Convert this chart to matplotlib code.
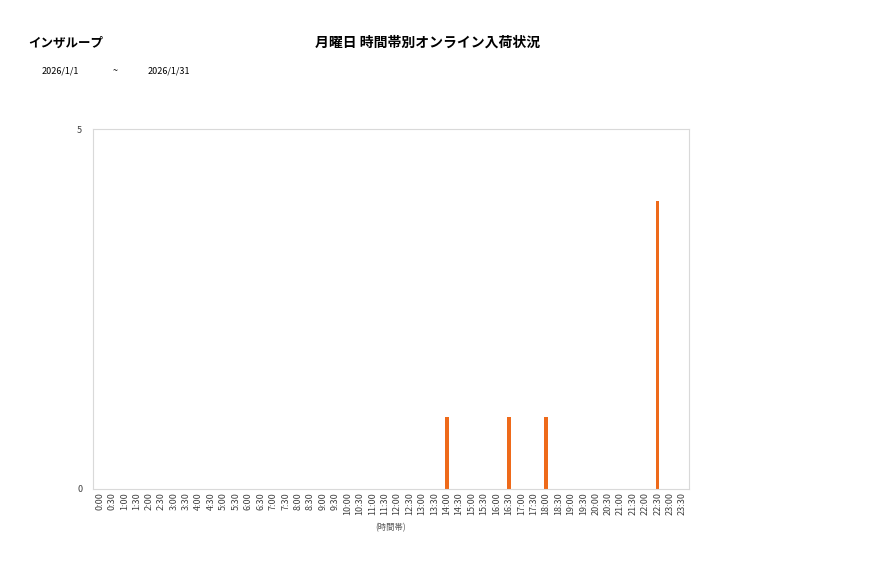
import matplotlib
matplotlib.use("Agg")
import matplotlib.pyplot as plt

plt.rcParams['font.family'] = ['Noto Sans CJK JP', 'DejaVu Sans']

# 時間帯 (30分刻み)
slots = ["{}:{:02d}".format(h, m) for h in range(24) for m in (0, 30)]
counts = [0] * len(slots)
# 入荷件数
hits = {"14:00": 1, "16:30": 1, "18:00": 1, "22:30": 4}
for k, v in hits.items():
    counts[slots.index(k)] = v

shop_name = "インザループ"
chart_title = "月曜日 時間帯別オンライン入荷状況"
date_from = "2026/1/1"
date_to = "2026/1/31"

fig = plt.figure(figsize=(8.77, 5.78), dpi=100)
ax = fig.add_axes([0.1064, 0.154, 0.6789, 0.6228])

x = list(range(len(slots)))
ax.bar(x, counts, width=0.27, color="#EE6A1A")

ax.set_xlim(-0.5, len(slots) - 0.5)
ax.set_ylim(0, 5)
ax.set_yticks([0, 5])
ax.set_xticks(x)
ax.set_xticklabels(slots, rotation=90, fontsize=6.5, color="#404040")
ax.tick_params(axis="both", length=0, pad=2)
ax.tick_params(axis="y", labelsize=6.5, labelcolor="#404040", pad=8)
for s in ax.spines.values():
    s.set_color("#D9D9D9")
    s.set_linewidth(0.8)

ax.set_xlabel("(時間帯)", fontsize=6, color="#595959", labelpad=6)

fig.text(28 / 877, 1 - 43 / 578, shop_name, fontsize=9, fontweight="bold",
         va="center", ha="left")
fig.text(428 / 877, 1 - 43 / 578, chart_title, fontsize=10, fontweight="bold",
         va="center", ha="center")
fig.text(42 / 877, 1 - 71 / 578, date_from, fontsize=6.5, va="center", ha="left")
fig.text(115 / 877, 1 - 71 / 578, "~", fontsize=6.5, va="center", ha="center")
fig.text(148 / 877, 1 - 71 / 578, date_to, fontsize=6.5, va="center", ha="left")

fig.savefig("out.png", dpi=100)
